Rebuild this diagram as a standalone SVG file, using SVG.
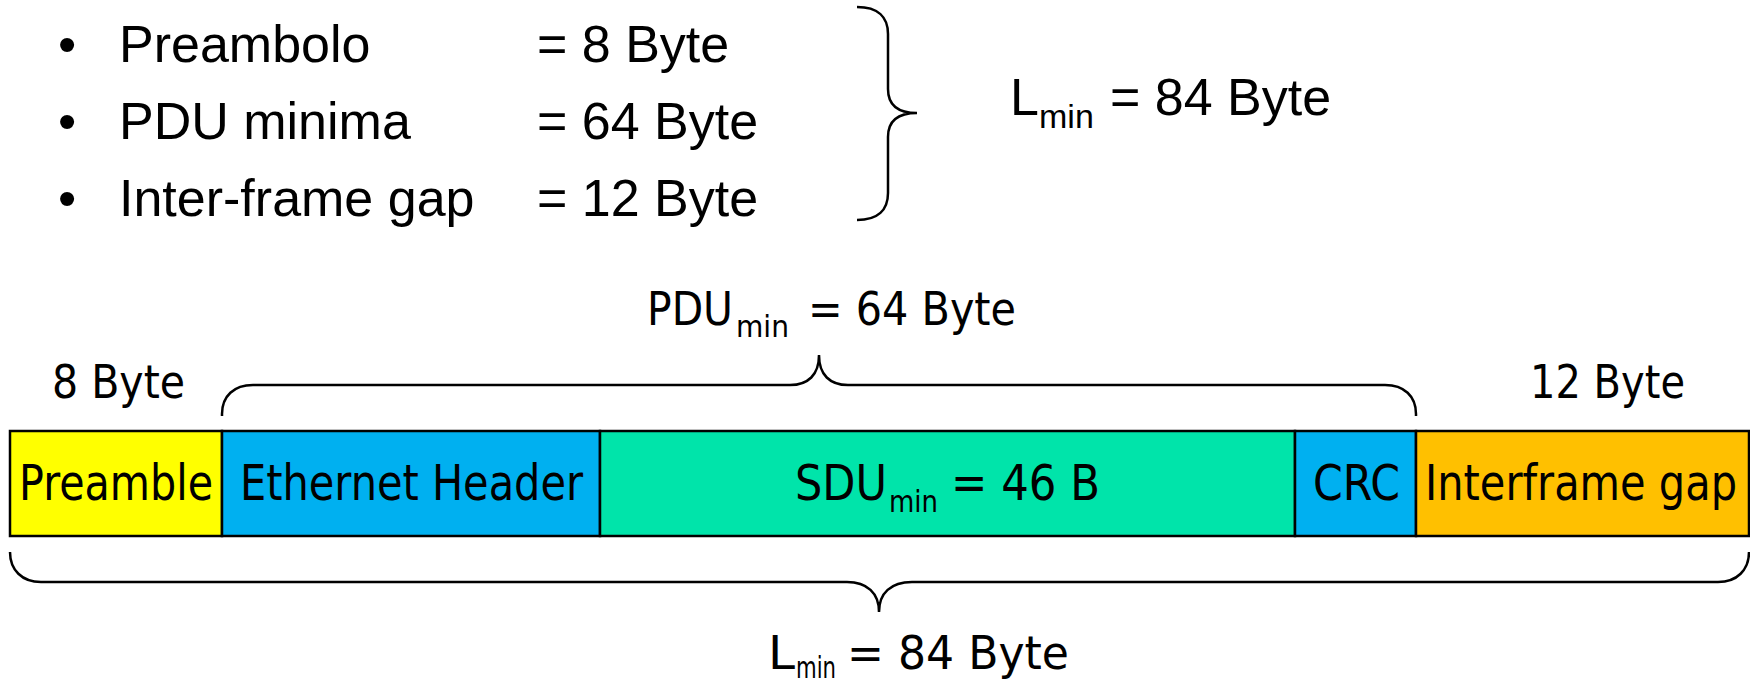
<svg xmlns="http://www.w3.org/2000/svg" width="1750" height="681" viewBox="0 0 1750 681">
<style>
.a{font-family:"Liberation Sans",Arial,sans-serif;font-size:52px;fill:#000}
.t{font-family:"DejaVu Sans",Tahoma,sans-serif;fill:#000}
.lb{font-size:47px}
.bl{font-size:50px}
.sub{font-size:31px}
.br{fill:none;stroke:#000;stroke-width:2.5}
.seg{stroke:#000;stroke-width:2.5}
</style>
<rect width="1750" height="681" fill="#fff"/>
<g id="list">
<text class="a" x="58" y="62">•</text>
<text class="a" x="119" y="62">Preambolo</text>
<text class="a" x="537" y="62">= 8 Byte</text>
<text class="a" x="58" y="139">•</text>
<text class="a" x="119" y="139">PDU minima</text>
<text class="a" x="537" y="139">= 64 Byte</text>
<text class="a" x="58" y="216">•</text>
<text class="a" x="119" y="216">Inter-frame gap</text>
<text class="a" x="537" y="216">= 12 Byte</text>
</g>
<g id="lmin-top">
<text class="a" y="115"><tspan x="1010">L</tspan><tspan x="1039" y="128" style="font-size:34px">min</tspan><tspan x="1110" y="115">= 84 Byte</tspan></text>
</g>
<g id="frame">
<rect id="preamble" class="seg" x="10" y="431" width="212" height="105" fill="#FFFF00"/>
<rect id="eth-header" class="seg" x="222" y="431" width="378" height="105" fill="#00B0F0"/>
<rect id="sdu" class="seg" x="600" y="431" width="695" height="105" fill="#00E4AA"/>
<rect id="crc" class="seg" x="1295" y="431" width="121" height="105" fill="#00B0F0"/>
<rect id="ifg" class="seg" x="1416" y="431" width="333" height="105" fill="#FFC000"/>
<text class="t bl" x="19" y="500" textLength="194" lengthAdjust="spacingAndGlyphs">Preamble</text>
<text class="t bl" x="240" y="500" textLength="343" lengthAdjust="spacingAndGlyphs">Ethernet Header</text>
<text class="t bl" y="500"><tspan x="795" textLength="92" lengthAdjust="spacingAndGlyphs">SDU</tspan><tspan class="sub" x="889" y="512" textLength="49" lengthAdjust="spacingAndGlyphs">min</tspan><tspan x="951" y="500" textLength="149" lengthAdjust="spacingAndGlyphs">= 46 B</tspan></text>
<text class="t bl" x="1313" y="500" textLength="87" lengthAdjust="spacingAndGlyphs">CRC</text>
<text class="t bl" x="1425" y="500" textLength="312" lengthAdjust="spacingAndGlyphs">Interframe gap</text>
</g>
<g id="labels">
<text class="t lb" y="325"><tspan x="647" textLength="86" lengthAdjust="spacingAndGlyphs">PDU</tspan><tspan class="sub" x="736" y="337" textLength="53" lengthAdjust="spacingAndGlyphs">min</tspan><tspan x="808" y="325" textLength="208" lengthAdjust="spacingAndGlyphs">= 64 Byte</tspan></text>
<text class="t lb" x="52" y="398" textLength="133" lengthAdjust="spacingAndGlyphs">8 Byte</text>
<text class="t lb" x="1530" y="398" textLength="155" lengthAdjust="spacingAndGlyphs">12 Byte</text>
<text class="t lb" y="669"><tspan x="768" textLength="27" lengthAdjust="spacingAndGlyphs">L</tspan><tspan class="sub" x="796" y="678" textLength="40" lengthAdjust="spacingAndGlyphs">min</tspan><tspan x="847" y="669" textLength="222" lengthAdjust="spacingAndGlyphs">= 84 Byte</tspan></text>
</g>
<g id="connectors">
<path class="br" d="M857,7 C878,7 888,17 888,34 L888,89 C888,105 898,113 917,113 C898,113 888,121 888,137 L888,193 C888,210 878,220 857,220"/>
<path class="br" d="M222,416 L222,414 C222,396 234,385 253,385 L790,385 C808,385 819,375 819,355 C819,375 830,385 848,385 L1385,385 C1404,385 1416,396 1416,414 L1416,416"/>
<path class="br" d="M10,552 C10,570 22,582 41,582 L847,582 C867,582 879,593 879,612 C879,593 891,582 912,582 L1718,582 C1737,582 1749,570 1749,552"/>
</g>
</svg>
